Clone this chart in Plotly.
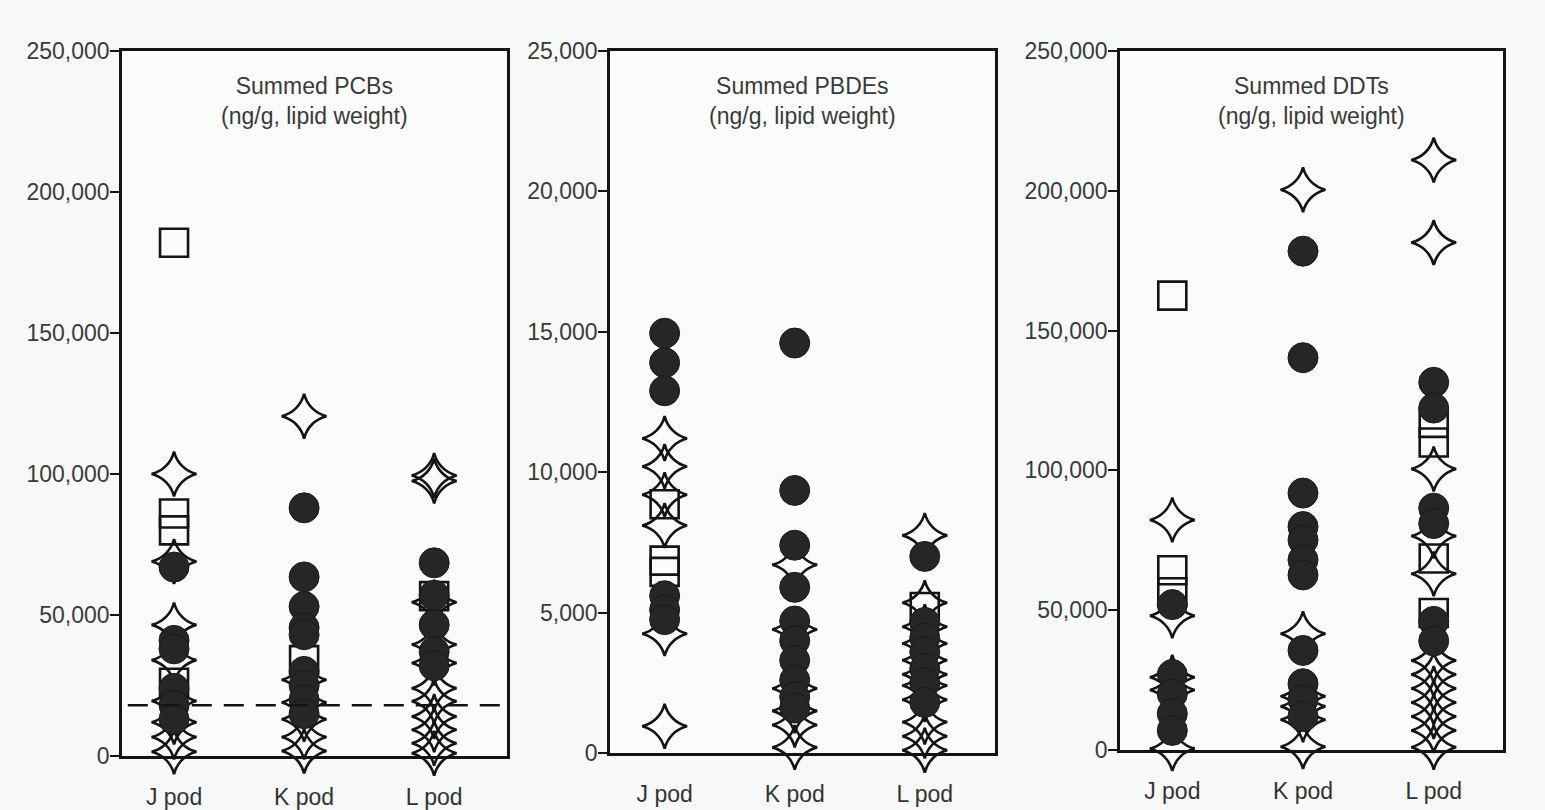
import plotly.graph_objects as go

PODS = ["J pod", "K pod", "L pod"]

# ---------------- Summed PCBs (ng/g, lipid weight) ----------------
pcb_star_J = [100000, 69000, 46500, 34000, 19500, 12000, 6700, 1500]
pcb_star_K = [120500, 27000, 19000, 13000, 6700, 1800]
pcb_star_L = [99500, 97500, 54500, 39500, 33000, 24000, 19400, 14000, 9300, 4500, 1000]
pcb_square_J = [182000, 86000, 80000, 26000]
pcb_square_K = [34000]
pcb_square_L = [56700]
pcb_circle_J = [67000, 41000, 38000, 24000, 18000, 13000]
pcb_circle_K = [88000, 63500, 53000, 45500, 43000, 30000, 25000, 20000, 15000]
pcb_circle_L = [68500, 57000, 46500, 37000, 32000]
PCB_THRESHOLD = 18000

# ---------------- Summed PBDEs (ng/g, lipid weight) ----------------
pbde_star_J = [11200, 10200, 9200, 8100, 4250, 950]
pbde_star_K = [6700, 4400, 2300, 1500, 1000, 200]
pbde_star_L = [7750, 5350, 4500, 3900, 3300, 2800, 2400, 1900, 1100, 600, 100]
pbde_square_J = [8860, 6850, 6450]
pbde_square_K = []
pbde_square_L = [5200]
pbde_circle_J = [14950, 13900, 12900, 5600, 5100, 4750]
pbde_circle_K = [14600, 9350, 7400, 5900, 4700, 4000, 3300, 2600, 2000, 1600]
pbde_circle_L = [7000, 4650, 4100, 3600, 3000, 2500, 1800]

# ---------------- Summed DDTs (ng/g, lipid weight) ----------------
ddt_star_J = [82300, 48000, 26000, 21500, 500]
ddt_star_K = [200400, 41600, 19200, 15600, 10800, 1200]
ddt_star_L = [211000, 181500, 100500, 76500, 63000, 32000, 27000, 22000, 17000, 12000, 7000, 1000]
ddt_square_J = [162500, 64300, 56400]
ddt_square_K = []
ddt_square_L = [117000, 110000, 68500, 49000]
ddt_circle_J = [52000, 27000, 20000, 13000, 7000]
ddt_circle_K = [178400, 140300, 91900, 79900, 75100, 68000, 62600, 35600, 23700, 18000, 12000]
ddt_circle_L = [131500, 122300, 86500, 81000, 46000, 39000]

PANEL_TITLES = ["Summed PCBs<br>(ng/g, lipid weight)",
                "Summed PBDEs<br>(ng/g, lipid weight)",
                "Summed DDTs<br>(ng/g, lipid weight)"]
Y_MAX = [250000, 25000, 250000]
Y_TICKS = [[0, 50000, 100000, 150000, 200000, 250000],
           [0, 5000, 10000, 15000, 20000, 25000],
           [0, 50000, 100000, 150000, 200000, 250000]]

panels = [
    {"star": [pcb_star_J, pcb_star_K, pcb_star_L],
     "square": [pcb_square_J, pcb_square_K, pcb_square_L],
     "circle": [pcb_circle_J, pcb_circle_K, pcb_circle_L]},
    {"star": [pbde_star_J, pbde_star_K, pbde_star_L],
     "square": [pbde_square_J, pbde_square_K, pbde_square_L],
     "circle": [pbde_circle_J, pbde_circle_K, pbde_circle_L]},
    {"star": [ddt_star_J, ddt_star_K, ddt_star_L],
     "square": [ddt_square_J, ddt_square_K, ddt_square_L],
     "circle": [ddt_circle_J, ddt_circle_K, ddt_circle_L]},
]

W, H = 1545, 810
# plot-area pixel boxes (left, right, top, bottom)
boxes = [(122, 507, 51, 756), (610, 995, 51, 753), (1120, 1503, 51, 750)]
x_ranges = [[-0.40, 2.56], [-0.42, 2.54], [-0.40, 2.53]]

INK = "#141414"
FONT = "Liberation Sans, Arial"
styles = {
    "star": dict(symbol="star-diamond-open", size=32, color=INK, line=dict(width=2.6, color=INK)),
    "square": dict(symbol="square-open", size=28, color=INK, line=dict(width=2.6, color=INK)),
    "circle": dict(symbol="circle", size=30, color="#262626", line=dict(width=1, color="#1a1a1a")),
}

fig = go.Figure()
layout = {}
annotations = []
shapes = []
for i, panel in enumerate(panels):
    n = "" if i == 0 else str(i + 1)
    xa, ya = "x" + n, "y" + n
    for kind in ["star", "square", "circle"]:
        xs, ys = [], []
        for pod, vals in zip(PODS, panel[kind]):
            xs += [pod] * len(vals)
            ys += list(vals)
        fig.add_trace(go.Scatter(x=xs, y=ys, mode="markers", marker=styles[kind],
                                 xaxis=xa, yaxis=ya, cliponaxis=False, showlegend=False,
                                 hoverinfo="skip"))
    l, r, t, b = boxes[i]
    layout["xaxis" + n] = dict(
        domain=[l / W, r / W], anchor=ya, type="category", categoryorder="array",
        categoryarray=PODS, range=x_ranges[i], showline=True, mirror=True,
        linecolor=INK, linewidth=2.5, ticks="", showgrid=False, zeroline=False,
        tickfont=dict(family=FONT, size=23, color="#333"),
        ticklabelstandoff=19, automargin=False, fixedrange=True)
    layout["yaxis" + n] = dict(
        domain=[1 - b / H, 1 - t / H], anchor=xa, range=[0, Y_MAX[i]],
        tickvals=Y_TICKS[i], tickformat=",d", showline=True, mirror=True,
        linecolor=INK, linewidth=2.5, ticks="outside", ticklen=9, tickwidth=2,
        tickcolor=INK, showgrid=False, zeroline=False, automargin=False,
        tickfont=dict(family=FONT, size=23, color="#3a3a3a"),
        ticklabelstandoff=-4, fixedrange=True)
    annotations.append(dict(text=PANEL_TITLES[i], xref=xa + " domain", yref=ya + " domain",
                            x=0.5, y=1, yanchor="top", yshift=-20, showarrow=False,
                            font=dict(family=FONT, size=23, color="#3a3a3a")))

shapes.append(dict(type="line", xref="x domain", yref="y", x0=0.015, x1=0.985,
                   y0=PCB_THRESHOLD, y1=PCB_THRESHOLD,
                   line=dict(color=INK, width=2.5, dash="20px,12px")))

fig.update_layout(**layout)
fig.update_layout(width=W, height=H, autosize=False,
                  margin=dict(l=0, r=0, t=0, b=0, pad=0, autoexpand=False),
                  paper_bgcolor="#f7f8f8", plot_bgcolor="#fbfbfb",
                  annotations=annotations, shapes=shapes, showlegend=False)
fig.write_html("out.html", config={"displayModeBar": False},
               post_script="document.body.style.margin='0';document.body.style.overflow='hidden';")
